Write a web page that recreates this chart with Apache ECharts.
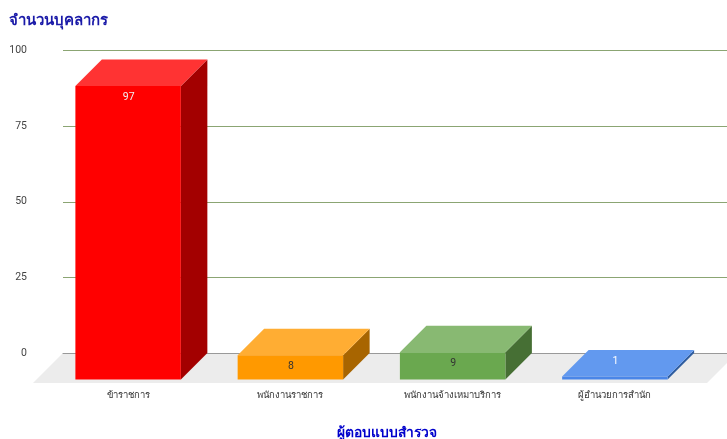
<!DOCTYPE html>
<html><head><meta charset="utf-8">
<style>html,body{margin:0;padding:0;background:#fff}#c{width:727px;height:439px}</style>
<script src="https://cdn.jsdelivr.net/npm/echarts@6/dist/echarts.min.js"></script>
</head><body><div id="c"></div>
<script>
var categories = ['ข้าราชการ','พนักงานราชการ','พนักงานจ้างเหมาบริการ','ผู้อำนวยการสำนัก'];
var values = [97, 8, 9, 1];
var frontColors = ['#ff0000','#ff9900','#6aa84f','#4a86e8'];
var topColors = ['#ff3333','#ffad33','#88b972','#6299ef'];
var sideColors = ['#a30000','#a86500','#466f34','#2f5da0'];
var labelColors = ['#f0f0f0','#333333','#333333','#ffffff'];
var DEPTH = 26.5, FLOOR = 30, FONT = '"Noto Sans","Noto Sans CJK SC",Roboto,sans-serif';
var chart = echarts.init(document.getElementById('c'), null, {renderer:'canvas'});
function poly(pts, fill){ return {type:'polygon', shape:{points:pts}, style:{fill:fill}, silent:true}; }
chart.setOption({
  animation:false,
  title:[
    {text:'จำนวนบุคลากร', left:4, top:8, textStyle:{fontFamily:FONT,fontSize:15,fontWeight:'bold',color:'#1a1aa8'}},
    {text:'ผู้ตอบแบบสำรวจ', left:382, textAlign:'center', top:421, textStyle:{fontFamily:FONT,fontSize:13.8,fontWeight:'bold',color:'#0000cc'}}
  ],
  grid:[
    {left:63, right:0, top:50.5, height:302.5},
    {left:47, width:649, top:50.5, height:302.5}
  ],
  xAxis:[
    {gridIndex:0, type:'category', z:2, data:categories, axisTick:{show:false}, axisLabel:{show:false},
     axisLine:{show:true,lineStyle:{color:'#999999',width:1}}, splitLine:{show:false}},
    {gridIndex:1, type:'category', data:categories, axisTick:{show:false}, axisLine:{show:false},
     axisLabel:{margin:38,interval:0,fontFamily:FONT,fontSize:9.5,color:'#333333'}}
  ],
  yAxis:[
    {gridIndex:0, type:'value', min:0, max:100, interval:25, axisLine:{show:false}, axisTick:{show:false},
     axisLabel:{margin:36,fontFamily:'Roboto,sans-serif',fontSize:10.5,color:'#444444'},
     splitLine:{lineStyle:{color:'#8ba573',width:1}}},
    {gridIndex:1, type:'value', min:0, max:100, interval:25, show:false}
  ],
  series:[
    {type:'custom', xAxisIndex:0, yAxisIndex:0, data:[0], clip:false, z:1,
     renderItem:function(params, api){
       var o = api.coord([0,0])[1], l = params.coordSys.x, r = l + params.coordSys.width;
       return poly([[l-FLOOR,o+FLOOR],[r-20,o+FLOOR],[r+10,o],[l,o]],'#ececec');
     }},
    {type:'custom', xAxisIndex:1, yAxisIndex:1, clip:false, z:3,
     data:values.map(function(v,i){return [i,v];}),
     renderItem:function(params, api){
       var i = api.value(0), v = api.value(1);
       var p = api.coord([i,v]), o = api.coord([i,0]), w = api.size([1,0])[0]*0.65;
       var x0 = p[0]-w/2, x1 = p[0]+w/2, yb = p[1], ob = o[1], d = DEPTH;
       var ft = yb+d, fb = ob+d;
       var ly = (fb-ft) < 12 ? ft-15.5 : ft+11.5;
       return {type:'group', children:[
         poly([[x1,ft],[x1+d,yb],[x1+d,ob],[x1,fb]], sideColors[i]),
         poly([[x0,ft],[x0+d,yb],[x1+d,yb],[x1,ft]], topColors[i]),
         poly([[x0,ft],[x1,ft],[x1,fb],[x0,fb]], frontColors[i]),
         {type:'text', silent:true, z2:10, style:{x:p[0]+0.5,y:ly,text:String(v),align:'center',verticalAlign:'middle',
           fill:labelColors[i],fontFamily:'Roboto,sans-serif',fontSize:10.5}}
       ]};
     }}
  ]
});
</script></body></html>
